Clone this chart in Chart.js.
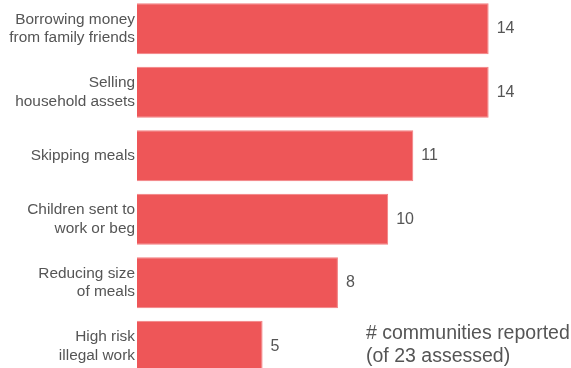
<!DOCTYPE html>
<html>
<head>
<meta charset="utf-8">
<script src="https://cdn.jsdelivr.net/npm/chart.js@4/dist/chart.umd.min.js"></script>
<style>
  html, body { margin: 0; padding: 0; background: #fff; overflow: hidden; }
  body { width: 571px; height: 368px; position: relative; }
  #wrap { position: absolute; left: 0; top: -3px; width: 571px; height: 381px; }
  #note {
    position: absolute; left: 366px; top: 321px;
    font-family: "Liberation Sans", Arial, sans-serif;
    font-size: 19.5px; line-height: 23px; color: #555;
    white-space: nowrap;
  }
</style>
</head>
<body>
<div id="wrap"><canvas id="chart"></canvas></div>
<div id="note"># communities reported<br>(of 23 assessed)</div>
<script>
"use strict";

const categories = [
  ["Borrowing money", "from family friends"],
  ["Selling", "household assets"],
  "Skipping meals",
  ["Children sent to", "work or beg"],
  ["Reducing size", "of meals"],
  ["High risk", "illegal work"],
];
const communities = [14, 14, 11, 10, 8, 5];

const FONT = "'Liberation Sans', Arial, sans-serif";
const TEXT = "#555";

// value next to the end of each bar
const valueLabels = {
  id: "valueLabels",
  afterDatasetsDraw(chart) {
    const ctx = chart.ctx;
    const meta = chart.getDatasetMeta(0);
    ctx.save();
    ctx.font = "16px " + FONT;
    ctx.fillStyle = TEXT;
    ctx.textAlign = "left";
    ctx.textBaseline = "middle";
    meta.data.forEach((bar, i) => {
      ctx.fillText(String(communities[i]), bar.x + 8, bar.y);
    });
    ctx.restore();
  },
};

new Chart(document.getElementById("chart"), {
  type: "bar",
  data: {
    labels: categories,
    datasets: [
      {
        data: communities,
        backgroundColor: "#EE5658",
        borderColor: "#F27F80",
        borderWidth: 1,
        categoryPercentage: 1,
        barPercentage: 0.8,
      },
    ],
  },
  options: {
    indexAxis: "y",
    responsive: true,
    maintainAspectRatio: false,
    animation: false,
    layout: { padding: { left: 0, right: 7, top: 0, bottom: 0 } },
    plugins: {
      legend: { display: false },
      tooltip: { enabled: false },
    },
    scales: {
      x: {
        display: false,
        min: 0,
        max: 17,
      },
      y: {
        grid: { display: false, drawTicks: false },
        border: { display: false },
        afterFit: (scale) => {
          scale.width = 137;
          scale.paddingTop = 0;
          scale.paddingBottom = 0;
        },
        ticks: {
          padding: 2,
          color: TEXT,
          font: { family: FONT, size: 15.4, lineHeight: 1.2 },
        },
      },
    },
  },
  plugins: [valueLabels],
});
</script>
</body>
</html>
